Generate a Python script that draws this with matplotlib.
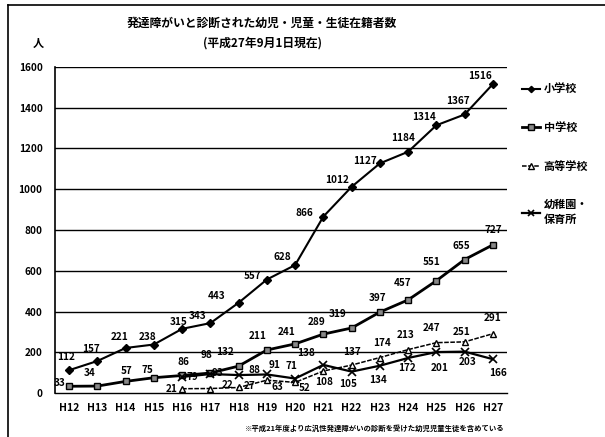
import matplotlib
matplotlib.use("Agg")
import matplotlib.pyplot as plt
from matplotlib.lines import Line2D

plt.rcParams['font.family'] = ['Noto Sans CJK JP', 'DejaVu Sans']

years = ["H12", "H13", "H14", "H15", "H16", "H17", "H18", "H19",
         "H20", "H21", "H22", "H23", "H24", "H25", "H26", "H27"]
elem = [112, 157, 221, 238, 315, 343, 443, 557, 628, 866, 1012, 1127, 1184, 1314, 1367, 1516]
junior = [33, 34, 57, 75, 86, 98, 132, 211, 241, 289, 319, 397, 457, 551, 655, 727]
high = [21, 22, 27, 63, 52, 108, 137, 174, 213, 247, 251, 291]          # H16-H27
kinder = [79, 93, 88, 91, 71, 138, 105, 134, 172, 201, 203, 166]        # H16-H27
series_names = ["小学校", "中学校", "高等学校", "幼稚園・\n保育所"]

# label offsets in pixels (dx, dy up)
off_elem = [(-3, 13), (-6, 12), (-6, 11), (-6, 8), (-4, 7), (-13, 7), (-22, 7), (-14, 4),
            (-13, 8), (-19, 4), (-15, 7), (-15, 2), (-5, 14), (-12, 8), (-7, 13), (-13, 8)]
off_jun = [(-10, 3), (-8, 13), (1, 10), (-6, 8), (1, 13), (-4, 18), (-14, 14), (-9, 14),
           (-9, 12), (-7, 12), (-14, 14), (-2, 14), (-6, 17), (-5, 19), (-3, 14), (0, 15)]
off_high = [(-10, 0), (17, 4), (11, 1), (10, -7), (9, -6), (1, -11), (0, 13), (2, 15),
            (-3, 15), (-5, 15), (-3, 10), (0, 16)]
off_kin = [(10, 0), (7, 1), (16, 5), (8, 9), (-4, 13), (-17, 12), (-4, -12), (-2, -14),
           (-1, -10), (3, -16), (3, -10), (5, -14)]

DPI = 100
fig = plt.figure(figsize=(6.05, 4.37), dpi=DPI)
ax = fig.add_axes([55/605, 1-393/437, (507-55)/605, (393-67)/437])

x_all = list(range(len(years)))
x_late = x_all[4:]

ax.set_xlim(-0.5, len(years) - 0.5)
ax.set_ylim(0, 1600)
ax.set_yticks(range(0, 1601, 200))
for v in range(200, 1601, 200):
    ax.axhline(v, color='black', lw=1.0, zorder=1)

l1, = ax.plot(x_all, elem, color='black', lw=1.5, marker='D', ms=4,
              mfc='black', mec='black', zorder=3)
l2, = ax.plot(x_all, junior, color='black', lw=2.0, marker='s', ms=5,
              mfc='#888888', mec='black', zorder=3)
l3, = ax.plot(x_late, high, color='black', lw=1.1, ls=(0, (3, 1)), marker='^', ms=5,
              mfc='white', mec='black', zorder=3)
l4, = ax.plot(x_late, kinder, color='black', lw=1.6, marker='x', ms=6,
              mew=1.2, zorder=3)

px = 72.0 / DPI
def labels(xs, vals, offs):
    for xx, v, (dx, dy) in zip(xs, vals, offs):
        ax.annotate(str(v), (xx, v), xytext=(dx * px, dy * px), textcoords='offset points',
                    ha='center', va='center', fontsize=7.2, fontweight='bold', zorder=5)

labels(x_all, elem, off_elem)
labels(x_all, junior, off_jun)
labels(x_late, high, off_high)
labels(x_late, kinder, off_kin)

ax.set_xticks(x_all)
ax.set_xticklabels(years, fontsize=7.5, fontweight='bold')
ax.tick_params(axis='x', length=0, pad=7)
ax.tick_params(axis='y', length=0, pad=9, labelsize=7.2)
for t in ax.get_yticklabels():
    t.set_fontweight('bold')

for s in ['top', 'right']:
    ax.spines[s].set_visible(False)
ax.spines['left'].set_linewidth(1.2)
ax.spines['bottom'].set_linewidth(1.0)

leg = ax.legend([l1, l2, l3, l4], series_names, loc='upper left',
                bbox_to_anchor=(518/605, 1-78/437), bbox_transform=fig.transFigure,
                frameon=False, fontsize=8, labelspacing=2.3, handlelength=1.6,
                handletextpad=0.3, borderaxespad=0, markerscale=0.8)
for t in leg.get_texts():
    t.set_fontweight('bold')

fig.text(262/605, 1-23/437, "発達障がいと診断された幼児・児童・生徒在籍者数",
         ha='center', va='center', fontsize=8.5, fontweight='bold')
fig.text(262/605, 1-43/437, "(平成27年9月1日現在)",
         ha='center', va='center', fontsize=8.5, fontweight='bold')
fig.text(38/605, 1-43/437, "人", ha='center', va='center', fontsize=8, fontweight='bold')
fig.text(505/605, 1-428/437, "※平成21年度より広汎性発達障がいの診断を受けた幼児児童生徒を含めている",
         ha='right', va='center', fontsize=5.3, fontweight='bold')

# scanned page frame
fig.add_artist(Line2D([8/605, 8/605], [0, 1-5/437], color='black', lw=1.2,
                      transform=fig.transFigure))
fig.add_artist(Line2D([8/605, 1], [1-5/437, 1-5/437], color='black', lw=1.2,
                      transform=fig.transFigure))

fig.savefig("out.png", dpi=DPI)
